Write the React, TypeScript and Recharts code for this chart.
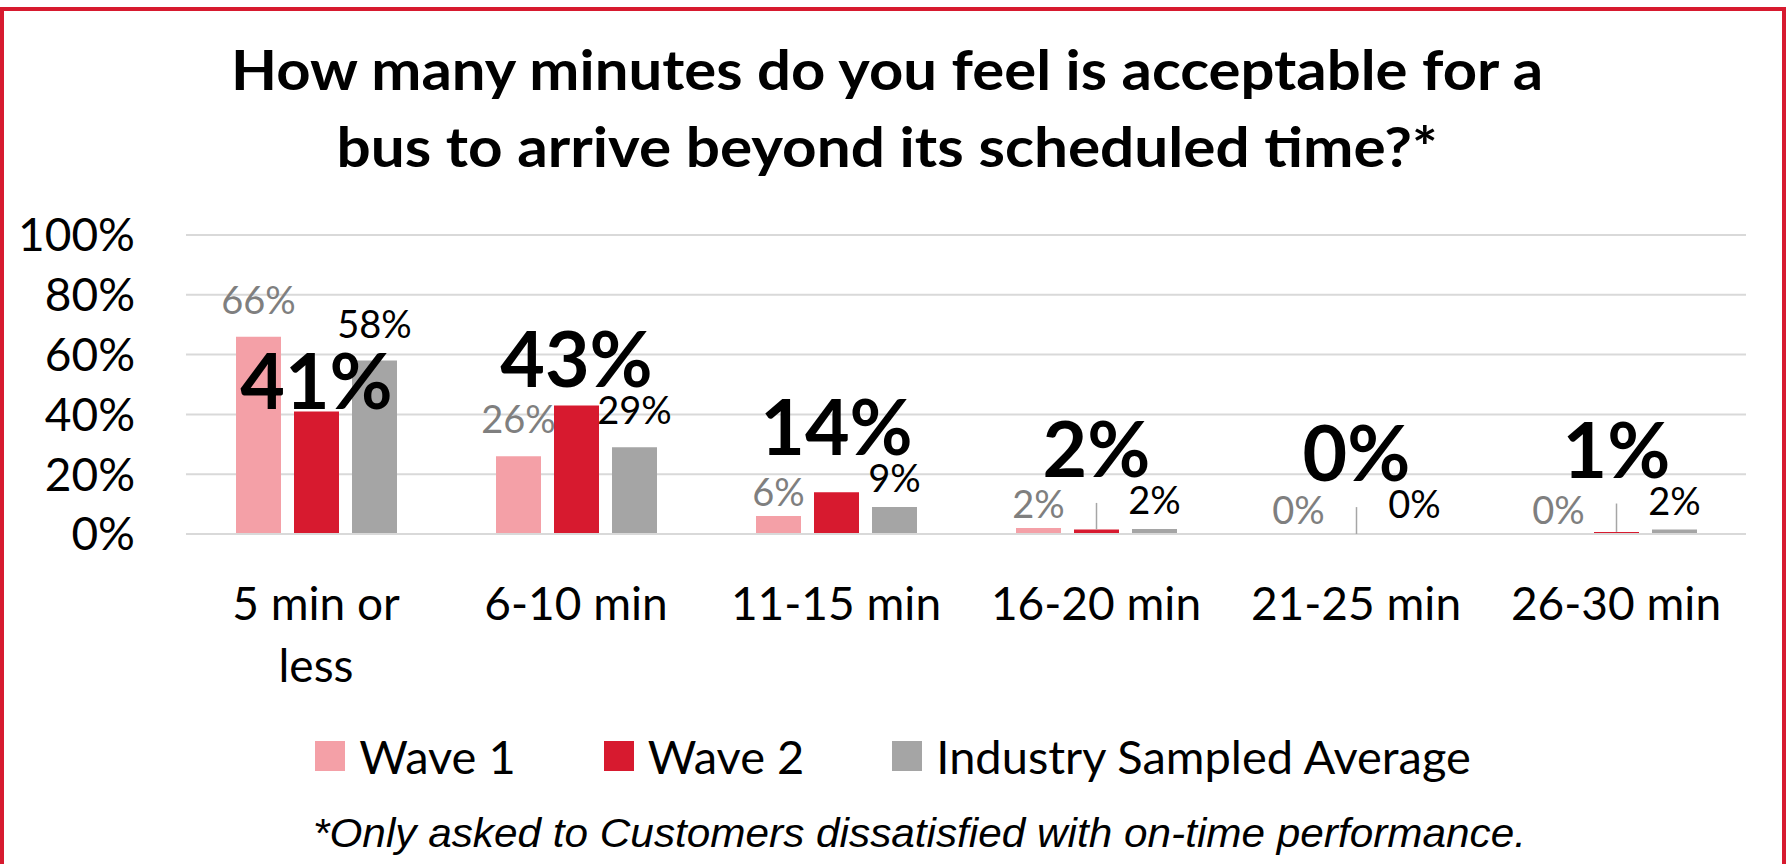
import React from 'react';
import { BarChart, Bar, XAxis, YAxis, CartesianGrid, Legend, LabelList } from 'recharts';

const categories = ['5 min or less', '6-10 min', '11-15 min', '16-20 min', '21-25 min', '26-30 min'];
const wave1 = [66, 26, 6, 2, 0, 0];
const wave2 = [41, 43, 14, 1.5, 0, 0.7];
const industry = [58, 29, 9, 1.7, 0.3, 1.5];
const yTicks = [0, 20, 40, 60, 80, 100];
const seriesNames = ['Wave 1', 'Wave 2', 'Industry Sampled Average'];
const titleLines = ['How many minutes do you feel is acceptable for a', 'bus to arrive beyond its scheduled time?*'];
const footnote = '*Only asked to Customers dissatisfied with on-time performance.';

const FONT = "Lato, 'Open Sans', sans-serif";
const C_W1 = '#F4A0A7';
const C_W2 = '#D71A2F';
const C_IND = '#A5A5A5';
const seriesColors = [C_W1, C_W2, C_IND];

const CHART_W = 1786;
const CHART_H = 864;
const MARGIN = { top: 235, right: 40, left: 0, bottom: 230 };
const X_AXIS_H = 100;
const PLOT_H = CHART_H - MARGIN.top - MARGIN.bottom - X_AXIS_H;
const Y_MAX = yTicks[yTicks.length - 1];

const SMALL_FS = 38;
const SMALL_CAP = 27;
const BIG_FS = 77;
const BIG_CAP = 56;

const data = categories.map((c, i) => ({ name: c, w1: wave1[i], w2: wave2[i], ind: industry[i] }));

// keep zero-value bars as (invisible) entries so their data labels are drawn
const keepZero = (v: any) => (Number(v) === 0 ? 0.01 : 0);

// label placement rules (pixels above the bar top)
const wave1Lift = (v: number) => (v >= 20 ? 23 : 10);
const indLift = (v: number) => (v >= 20 ? 23 : 15);

let canvasCtx: CanvasRenderingContext2D | null = null;
function measure(text: string, font: string): number {
  if (!canvasCtx) {
    const c = document.createElement('canvas');
    canvasCtx = c.getContext('2d');
  }
  if (!canvasCtx) return text.length * 20;
  canvasCtx.font = font;
  return canvasCtx.measureText(text).width;
}
function wrap(text: string, maxW: number, font: string): string[] {
  const words = text.split(' ');
  const lines: string[] = [];
  let cur = '';
  words.forEach((w) => {
    const t = cur ? cur + ' ' + w : w;
    if (cur && measure(t, font) > maxW) {
      lines.push(cur);
      cur = w;
    } else cur = t;
  });
  if (cur) lines.push(cur);
  return lines;
}

const XTick = (p: any) => {
  const { x, y, payload } = p;
  const lines = wrap(String(payload.value), 225, '46px Lato');
  return (
    <text x={x} y={y} textAnchor="middle" fontSize={46} fill="#000" fontFamily={FONT}>
      {lines.map((l, i) => (
        <tspan key={i} x={x} y={y + 86 + i * 62}>{l}</tspan>
      ))}
    </text>
  );
};

const Wave1Label = (p: any) => {
  const { x, y, width, value } = p;
  const cx = x + width / 2;
  const base = y - wave1Lift(value);
  return (
    <text x={cx} y={base} textAnchor="middle" fontSize={SMALL_FS} fill="#7F7F7F" fontFamily={FONT}>
      {Math.round(value)}%
    </text>
  );
};

const Wave2Label = (p: any) => {
  const { x, y, width, height, value, index } = p;
  const cx = x + width / 2;
  const zeroY = y + height;
  const ppu = PLOT_H / Y_MAX;
  // neighbouring small labels in the same category
  const neighbours = [
    { v: wave1[index], lift: wave1Lift(wave1[index]) },
    { v: industry[index], lift: indLift(industry[index]) },
  ].map((n) => {
    const top = zeroY - n.v * ppu;
    const base = top - n.lift;
    return { base, top: base - SMALL_CAP };
  });
  let b = y - 2;
  const colliding = neighbours.filter((n) => b - BIG_CAP < n.base + 3 && b > n.top);
  if (colliding.length) b = Math.min(...colliding.map((n) => n.top)) - 10;
  const leaderTop = b + 26;
  const showLeader = y - leaderTop > 15;
  return (
    <g>
      {showLeader && <line x1={cx} x2={cx} y1={y} y2={leaderTop} stroke="#A6A6A6" strokeWidth={1.5} />}
      <text x={cx} y={b} textAnchor="middle" fontSize={BIG_FS} fontWeight={700} fill="#000" fontFamily={FONT}>
        {Math.round(value)}%
      </text>
    </g>
  );
};

const IndLabel = (p: any) => {
  const { x, y, width, value } = p;
  const cx = x + width / 2;
  const base = y - indLift(value);
  return (
    <text x={cx} y={base} textAnchor="middle" fontSize={SMALL_FS} fill="#000" fontFamily={FONT}>
      {Math.round(value)}%
    </text>
  );
};

const LegendContent = () => (
  <div style={{ display: 'flex', justifyContent: 'center', alignItems: 'center', height: 40, fontFamily: FONT }}>
    {seriesNames.map((name, i) => (
      <div key={i} style={{ display: 'flex', alignItems: 'center', marginRight: i < seriesNames.length - 1 ? 88 : 0 }}>
        <div style={{ width: 30, height: 30, background: seriesColors[i], marginRight: 14 }} />
        <span style={{ fontSize: 47, lineHeight: '40px', color: '#000' }}>{name}</span>
      </div>
    ))}
  </div>
);

export default function App() {
  return (
    <div style={{ position: 'absolute', left: 0, top: 0, width: CHART_W, height: CHART_H, overflow: 'hidden', background: '#fff' }}>
      <div style={{ position: 'absolute', left: 0, top: 7, width: CHART_W, height: 900, border: '4px solid #D71A2F', boxSizing: 'border-box' }} />
      <div style={{ position: 'absolute', left: 0, top: 0 }}>
        <BarChart
          width={CHART_W}
          height={CHART_H}
          data={data}
          margin={MARGIN}
          barGap={13}
          barSize={45}
          style={{ fontFamily: FONT }}
        >
          <CartesianGrid vertical={false} stroke="#D9D9D9" strokeWidth={2} />
          <XAxis
            dataKey="name"
            height={X_AXIS_H}
            tickLine={false}
            tickSize={0}
            tickMargin={0}
            axisLine={{ stroke: '#D9D9D9', strokeWidth: 2 }}
            tick={<XTick />}
            interval={0}
          />
          <YAxis
            width={186}
            domain={[0, Y_MAX]}
            ticks={yTicks}
            tickFormatter={(v: number) => `${v}%`}
            axisLine={false}
            tickLine={false}
            tickSize={0}
            tickMargin={51}
            tick={{ fontSize: 46, fill: '#000', fontFamily: FONT }}
          />
          <Legend
            layout="horizontal"
            verticalAlign="middle"
            align="center"
            wrapperStyle={{ top: 736, left: 0, width: CHART_W, height: 40 }}
            content={<LegendContent />}
          />
          <Bar dataKey="w1" name={seriesNames[0]} fill={C_W1} minPointSize={keepZero} isAnimationActive={false}>
            <LabelList dataKey="w1" content={<Wave1Label />} />
          </Bar>
          <Bar dataKey="w2" name={seriesNames[1]} fill={C_W2} minPointSize={keepZero} isAnimationActive={false}>
            <LabelList dataKey="w2" content={<Wave2Label />} />
          </Bar>
          <Bar dataKey="ind" name={seriesNames[2]} fill={C_IND} minPointSize={keepZero} isAnimationActive={false}>
            <LabelList dataKey="ind" content={<IndLabel />} />
          </Bar>
        </BarChart>
      </div>
      <svg width={CHART_W} height={CHART_H} style={{ position: 'absolute', left: 0, top: 0, pointerEvents: 'none' }}>
        <text x={887} y={90} textAnchor="middle" fontSize={55} fontWeight={700} fontFamily={FONT} fill="#000"
          textLength={1312} lengthAdjust="spacingAndGlyphs">
          {titleLines[0]}
        </text>
        <text x={887} y={167} textAnchor="middle" fontSize={55} fontWeight={700} fontFamily={FONT} fill="#000"
          textLength={1101} lengthAdjust="spacingAndGlyphs">
          {titleLines[1]}
        </text>
        <text x={313} y={847} fontSize={41} fontStyle="italic" fontFamily="'Liberation Sans', Arial, sans-serif" fill="#000"
          textLength={1213} lengthAdjust="spacingAndGlyphs">
          {footnote}
        </text>
      </svg>
    </div>
  );
}
